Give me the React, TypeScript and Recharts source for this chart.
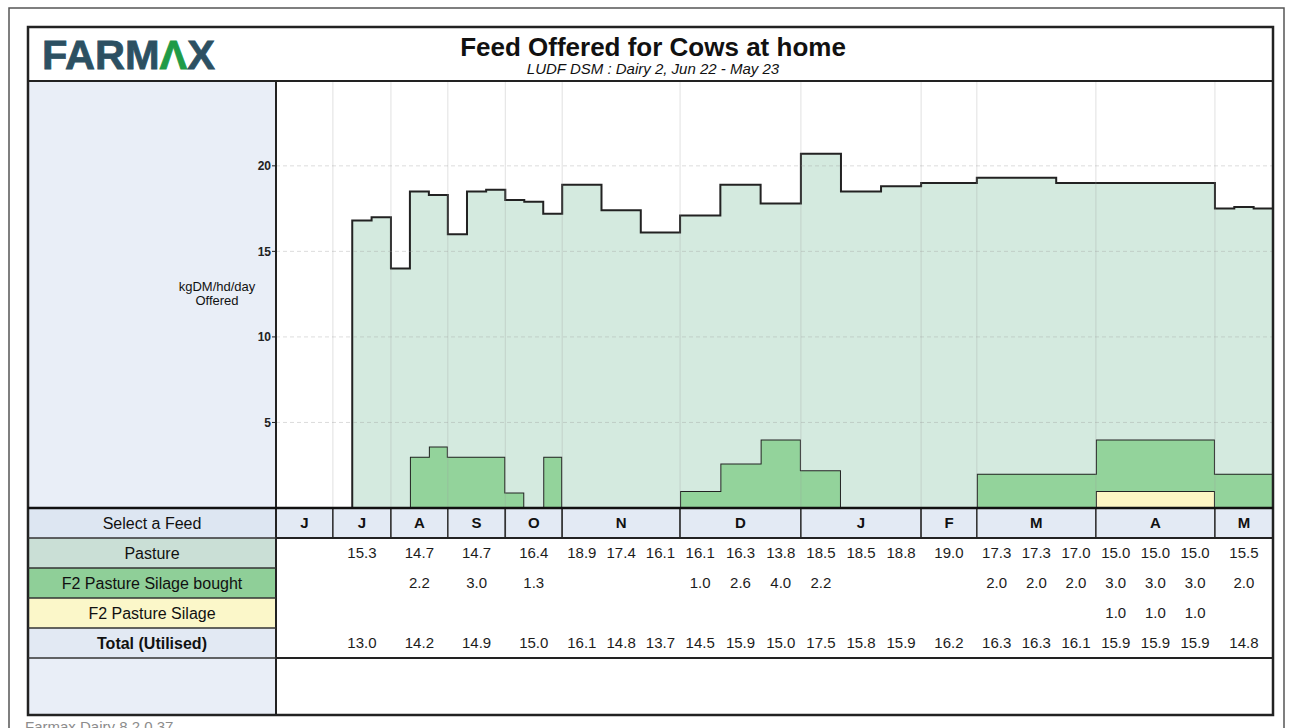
import React from 'react';
import { ComposedChart, Area, Scatter, XAxis, YAxis, ReferenceArea, ReferenceLine } from 'recharts';

const FONT = "'Liberation Sans', Arial, Helvetica, sans-serif";

// Month columns of the season and their edges on the period axis
const months = ['J', 'J', 'A', 'S', 'O', 'N', 'D', 'J', 'F', 'M', 'A', 'M'];
const monthEdges = [0, 0.97, 1.96, 2.93, 3.91, 4.88, 6.89, 8.95, 11.0, 11.95, 13.98, 16.01, 17];

// kgDM/hd/day offered, three feed periods per month
const pastureOffered = [
  [0, 0, 0],
  [0, 16.8, 17.0],
  [14.0, 15.5, 14.7],
  [13.0, 15.5, 15.6],
  [17.1, 17.9, 14.2],
  [18.9, 17.4, 16.1],
  [16.1, 16.3, 13.8],
  [18.5, 18.5, 18.8],
  [19.0, 19.0, 19.0],
  [17.3, 17.3, 17.0],
  [15.0, 15.0, 15.0],
  [15.5, 15.6, 15.5],
];
const silageBought = [
  [0, 0, 0],
  [0, 0, 0],
  [0, 3.0, 3.6],
  [3.0, 3.0, 3.0],
  [0.9, 0, 3.0],
  [0, 0, 0],
  [1.0, 2.6, 4.0],
  [2.2, 0, 0],
  [0, 0, 0],
  [2.0, 2.0, 2.0],
  [3.0, 3.0, 3.0],
  [2.0, 2.0, 2.0],
];
const silageOwn = [
  [0, 0, 0],
  [0, 0, 0],
  [0, 0, 0],
  [0, 0, 0],
  [0, 0, 0],
  [0, 0, 0],
  [0, 0, 0],
  [0, 0, 0],
  [0, 0, 0],
  [0, 0, 0],
  [1.0, 1.0, 1.0],
  [0, 0, 0],
];

const yTicks = [5, 10, 15, 20];

// Table below the chart: columns per month, then one value per column
const monthSplit = [1, 1, 1, 1, 1, 3, 3, 3, 1, 3, 3, 1];
const rowLabels = ['Select a Feed', 'Pasture', 'F2 Pasture Silage bought', 'F2 Pasture Silage', 'Total (Utilised)'];
const pastureRow = [null, 15.3, 14.7, 14.7, 16.4, 18.9, 17.4, 16.1, 16.1, 16.3, 13.8, 18.5, 18.5, 18.8, 19.0, 17.3, 17.3, 17.0, 15.0, 15.0, 15.0, 15.5];
const boughtRow = [null, null, 2.2, 3.0, 1.3, null, null, null, 1.0, 2.6, 4.0, 2.2, null, null, null, 2.0, 2.0, 2.0, 3.0, 3.0, 3.0, 2.0];
const silageRow = [null, null, null, null, null, null, null, null, null, null, null, null, null, null, null, null, null, null, 1.0, 1.0, 1.0, null];
const totalRow = [null, 13.0, 14.2, 14.9, 15.0, 16.1, 14.8, 13.7, 14.5, 15.9, 15.0, 17.5, 15.8, 15.9, 16.2, 16.3, 16.3, 16.1, 15.9, 15.9, 15.9, 14.8];

const steps = months.flatMap((_, m) => {
  const w = (monthEdges[m + 1] - monthEdges[m]) / 3;
  return [0, 1, 2].map((k) => ({
    x: monthEdges[m] + k * w,
    silage: silageOwn[m][k],
    bought: silageBought[m][k],
    pasture: pastureOffered[m][k],
  }));
});
steps.push({ ...steps[steps.length - 1], x: monthEdges[monthEdges.length - 1] });

const tableCols = months.flatMap((_, m) => {
  const n = monthSplit[m];
  const w = (monthEdges[m + 1] - monthEdges[m]) / n;
  return Array.from({ length: n }, (_, j) => monthEdges[m] + (j + 0.5) * w);
});

const cellsFor = (values: (number | null)[], row: number) =>
  values
    .map((v, i) => (v == null ? null : { x: tableCols[i], y: row + 0.5, text: v.toFixed(1) }))
    .filter(Boolean) as { x: number; y: number; text: string }[];

const tableRows = [pastureRow, boughtRow, silageRow, totalRow];

const CellText = (props: any) => (
  <text x={props.cx} y={props.cy} dy="0.36em" textAnchor="middle" fontSize={15} fill="#1c1c1c" fontFamily={FONT}>
    {props.payload.text}
  </text>
);

// page layout
const LEFT = 28;
const PLOT_X = 276;
const RIGHT = 1273;
const HEAD_BOTTOM = 81;
const TABLE_TOP = 508;
const ROW_H = 30;
const BOTTOM = 715;

const cellFills = ['#dde6f2', '#cadfd6', '#8fcf98', '#fbf7c9', '#e2e9f3'];

export default function App() {
  return (
    <div style={{ position: 'absolute', left: 0, top: 0, width: 1290, height: 728, overflow: 'hidden', background: '#fff', fontFamily: FONT }}>
      <svg width={1290} height={728} style={{ position: 'absolute', left: 0, top: 0 }}>
        <rect x={LEFT} y={HEAD_BOTTOM} width={PLOT_X - LEFT} height={BOTTOM - HEAD_BOTTOM} fill="#e9eef7" />
        {cellFills.map((c, i) => (
          <rect key={i} x={LEFT} y={TABLE_TOP + i * ROW_H} width={PLOT_X - LEFT} height={ROW_H} fill={c} />
        ))}
      </svg>

      <div style={{ position: 'absolute', left: LEFT, top: HEAD_BOTTOM + 1 }}>
        <ComposedChart width={RIGHT - LEFT} height={TABLE_TOP - HEAD_BOTTOM - 1} data={steps} margin={{ top: 0, right: 0, bottom: 0, left: 0 }}>
          <XAxis dataKey="x" type="number" domain={[0, 17]} hide />
          <YAxis
            type="number"
            domain={[0, 24.9]}
            ticks={yTicks}
            width={PLOT_X - LEFT}
            tickSize={4}
            tickMargin={1}
            tick={{ fontSize: 12, fill: '#222', fontFamily: FONT, fontWeight: 'bold' }}
            tickLine={{ stroke: '#222' }}
            axisLine={{ stroke: '#111', strokeWidth: 2 }}
          />
          <Area type="stepAfter" dataKey="silage" stackId="feed" stroke="#222" strokeWidth={2} fill="#fdf6c4" fillOpacity={1} dot={false} activeDot={false} isAnimationActive={false} />
          <Area type="stepAfter" dataKey="bought" stackId="feed" stroke="#222" strokeWidth={2} fill="#93d39b" fillOpacity={1} dot={false} activeDot={false} isAnimationActive={false} />
          <Area type="stepAfter" dataKey="pasture" stackId="feed" stroke="#222" strokeWidth={2} fill="#d4eadf" fillOpacity={1} dot={false} activeDot={false} isAnimationActive={false} />
          {yTicks.map((t) => (
            <ReferenceLine key={'h' + t} y={t} stroke="#9a9a9a" strokeOpacity={0.35} strokeDasharray="4 3" />
          ))}
          {monthEdges.slice(1, -1).map((e) => (
            <ReferenceLine key={'v' + e} x={e} stroke="#9a9a9a" strokeOpacity={0.3} />
          ))}
        </ComposedChart>
      </div>

      <div style={{ position: 'absolute', left: PLOT_X, top: TABLE_TOP }}>
        <ComposedChart width={RIGHT - PLOT_X} height={BOTTOM - TABLE_TOP} margin={{ top: 0, right: 0, bottom: 0, left: 0 }}>
          <XAxis dataKey="x" type="number" domain={[0, 17]} hide />
          <YAxis dataKey="y" type="number" domain={[0, 6.9]} reversed hide />
          {months.map((m, i) => (
            <ReferenceArea
              key={i}
              x1={monthEdges[i]}
              x2={monthEdges[i + 1]}
              y1={0}
              y2={1}
              fill="#e3eaf4"
              fillOpacity={1}
              stroke="#333"
              strokeWidth={1.5}
              label={{ value: m, position: 'center', fill: '#111', fontSize: 15, fontWeight: 'bold', fontFamily: FONT }}
            />
          ))}
          <ReferenceLine y={1} stroke="#222" strokeWidth={2} />
          <ReferenceLine y={5} stroke="#222" strokeWidth={2} />
          {tableRows.map((row, r) => (
            <Scatter key={r} data={cellsFor(row, r + 1)} shape={CellText} isAnimationActive={false} />
          ))}
        </ComposedChart>
      </div>

      <svg width={1290} height={728} style={{ position: 'absolute', left: 0, top: 0, pointerEvents: 'none' }}>
        <rect x={9} y={8} width={1275} height={740} fill="none" stroke="#555" strokeWidth={1.5} />
        <rect x={LEFT} y={27} width={RIGHT - LEFT} height={BOTTOM - 27} fill="none" stroke="#222" strokeWidth={2.5} />
        <line x1={LEFT} x2={RIGHT} y1={HEAD_BOTTOM} y2={HEAD_BOTTOM} stroke="#222" strokeWidth={2} />
        <line x1={PLOT_X} x2={PLOT_X} y1={HEAD_BOTTOM} y2={BOTTOM} stroke="#222" strokeWidth={2} />
        <line x1={LEFT} x2={RIGHT} y1={TABLE_TOP} y2={TABLE_TOP} stroke="#111" strokeWidth={2.5} />
        {[1, 2, 3, 4, 5].map((i) => (
          <line key={i} x1={LEFT} x2={PLOT_X} y1={TABLE_TOP + i * ROW_H} y2={TABLE_TOP + i * ROW_H} stroke="#333" strokeWidth={1.5} />
        ))}

        <text x={42} y={69} fontSize={41.5} fontWeight="bold" fill="#2c5062" stroke="#2c5062" strokeWidth={0.8} fontFamily={FONT}>
          FARM<tspan fill="#1f9b48" stroke="#1f9b48">Λ</tspan>X
        </text>
        <text x={653} y={56} textAnchor="middle" fontSize={26} fontWeight="bold" fill="#111" fontFamily={FONT}>
          Feed Offered for Cows at home
        </text>
        <text x={653} y={74} textAnchor="middle" fontSize={15} fontStyle="italic" fill="#111" fontFamily={FONT}>
          LUDF DSM : Dairy 2, Jun 22 - May 23
        </text>

        <text x={217} y={291} textAnchor="middle" fontSize={13} fill="#111" fontFamily={FONT}>kgDM/hd/day</text>
        <text x={217} y={305} textAnchor="middle" fontSize={13} fill="#111" fontFamily={FONT}>Offered</text>

        {rowLabels.map((l, i) => (
          <text
            key={l}
            x={(LEFT + PLOT_X) / 2}
            y={TABLE_TOP + i * ROW_H + ROW_H / 2 + 5.5}
            textAnchor="middle"
            fontSize={16}
            fontWeight={i === rowLabels.length - 1 ? 'bold' : 'normal'}
            fill="#111"
            fontFamily={FONT}
          >
            {l}
          </text>
        ))}

        <text x={25} y={732} fontSize={15} fill="#8c8c8c" fontFamily={FONT}>Farmax Dairy 8.2.0.37</text>
      </svg>
    </div>
  );
}
